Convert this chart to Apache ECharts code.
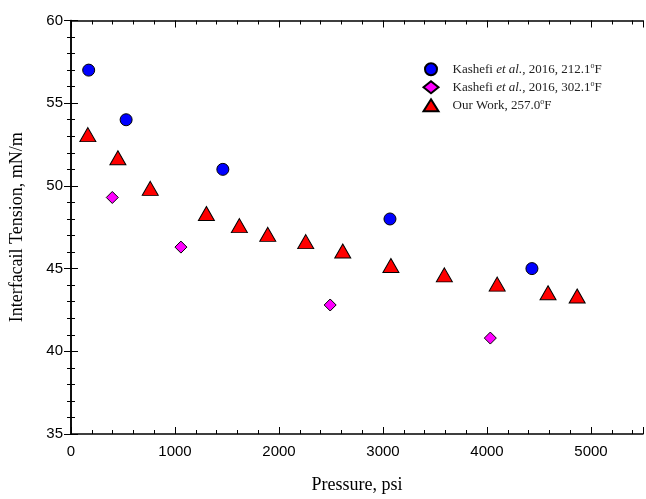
<!DOCTYPE html>
<html>
<head>
<meta charset="utf-8">
<script src="https://cdn.jsdelivr.net/npm/echarts@6/dist/echarts.min.js"></script>
<style>html,body{margin:0;padding:0;background:#fff}#c{width:646px;height:499px}</style>
</head>
<body>
<div id="c"></div>
<script>
// Kashefi et al., 2016, 212.1 F
var pressure212 = [170, 530, 1460, 3067, 4432];
var ift212 = [57.0, 54.0, 51.0, 48.0, 45.0];
// Kashefi et al., 2016, 302.1 F
var pressure302 = [397, 1057, 2492, 4032];
var ift302 = [49.3, 46.3, 42.8, 40.8];
// Our Work, 257.0 F
var pressure257 = [162, 451, 762, 1302, 1619, 1892, 2257, 2613, 3076, 3590, 4098, 4587, 4867];
var ift257 = [53.1, 51.7, 49.85, 48.33, 47.6, 47.07, 46.63, 46.06, 45.19, 44.62, 44.06, 43.54, 43.34];
var xTicks = [0, 1000, 2000, 3000, 4000, 5000];
var yTicks = [35, 40, 45, 50, 55, 60];

function pairs(xs, ys) { return xs.map(function (x, i) { return [x, ys[i]]; }); }

var chart = echarts.init(document.getElementById('c'), null, {renderer: 'canvas'});
var axisLine = {show: true, lineStyle: {color: '#000', width: 1.5}};
var tick = {show: true, inside: true, length: 7, lineStyle: {color: '#000', width: 1}};
var minor = {show: true, splitNumber: 5, length: 4, lineStyle: {color: '#000', width: 1}};
var labelFont = {fontFamily: 'Liberation Sans', fontSize: 15, color: '#000'};
var serif = 'Liberation Serif';

chart.setOption({
  animation: false,
  backgroundColor: '#fff',
  grid: {left: 70, top: 20.5, width: 577.5, height: 416.5, containLabel: false},
  legend: {
    orient: 'vertical', left: 422.5, top: 62.3, padding: 0, itemGap: 4, itemWidth: 15, itemHeight: 12,
    textStyle: {fontFamily: serif, fontSize: 13, color: '#222', padding: [0, 0, 0, 9],
      rich: {
        n: {fontFamily: serif, fontSize: 13, lineHeight: 14, color: '#222'},
        i: {fontFamily: serif, fontSize: 13, lineHeight: 14, fontStyle: 'italic', color: '#222'},
        s: {fontFamily: serif, fontSize: 8, lineHeight: 8, color: '#222', verticalAlign: 'top'}
      }},
    formatter: function (name) {
      if (name === 'k212') return '{n|Kashefi }{i|et al.}{n|, 2016, 212.1}{s|o}{n|F}';
      if (name === 'k302') return '{n|Kashefi }{i|et al.}{n|, 2016, 302.1}{s|o}{n|F}';
      return '{n|Our Work, 257.0}{s|o}{n|F}';
    },
    data: ['k212', 'k302', 'our']
  },
  xAxis: [{
    type: 'value', min: 0, max: 5500, interval: 1000, position: 'bottom',
    name: 'Pressure, psi', nameLocation: 'middle', nameGap: 42,
    nameTextStyle: {fontFamily: serif, fontSize: 18, color: '#000'},
    axisLine: axisLine, axisTick: tick, minorTick: minor, splitLine: {show: false},
    axisLabel: Object.assign({margin: 10, formatter: function (v) { return xTicks.indexOf(v) >= 0 ? String(v) : ''; }}, labelFont)
  }, {
    type: 'value', min: 0, max: 5500, interval: 1000, position: 'top',
    axisLine: axisLine, axisTick: tick, minorTick: minor, splitLine: {show: false},
    axisLabel: {show: false}
  }],
  yAxis: [{
    type: 'value', min: 35, max: 60, interval: 5, position: 'left',
    name: 'Interfacail Tension, mN/m', nameLocation: 'middle', nameGap: 45,
    nameTextStyle: {fontFamily: serif, fontSize: 18, color: '#000'},
    axisLine: axisLine, axisTick: tick, minorTick: minor, splitLine: {show: false},
    axisLabel: Object.assign({margin: 8, formatter: function (v) { return yTicks.indexOf(v) >= 0 ? String(v) : ''; }}, labelFont)
  }, {
    type: 'value', min: 35, max: 60, interval: 5, position: 'right',
    axisLine: axisLine, axisTick: tick, minorTick: minor, splitLine: {show: false},
    axisLabel: {show: false}
  }],
  series: [{
    name: 'k212', type: 'scatter', symbol: 'circle', symbolSize: 12,
    itemStyle: {color: '#0000ff', borderColor: '#000', borderWidth: 1, opacity: 1},
    data: pairs(pressure212, ift212)
  }, {
    name: 'k302', type: 'scatter', symbol: 'diamond', symbolSize: 12,
    itemStyle: {color: '#ff00ff', borderColor: '#000', borderWidth: 1, opacity: 1},
    data: pairs(pressure302, ift302)
  }, {
    name: 'our', type: 'scatter', symbol: 'triangle', symbolSize: [16, 14],
    itemStyle: {color: '#ff0000', borderColor: '#000', borderWidth: 1, opacity: 1},
    data: pairs(pressure257, ift257)
  }]
});
</script>
</body>
</html>
